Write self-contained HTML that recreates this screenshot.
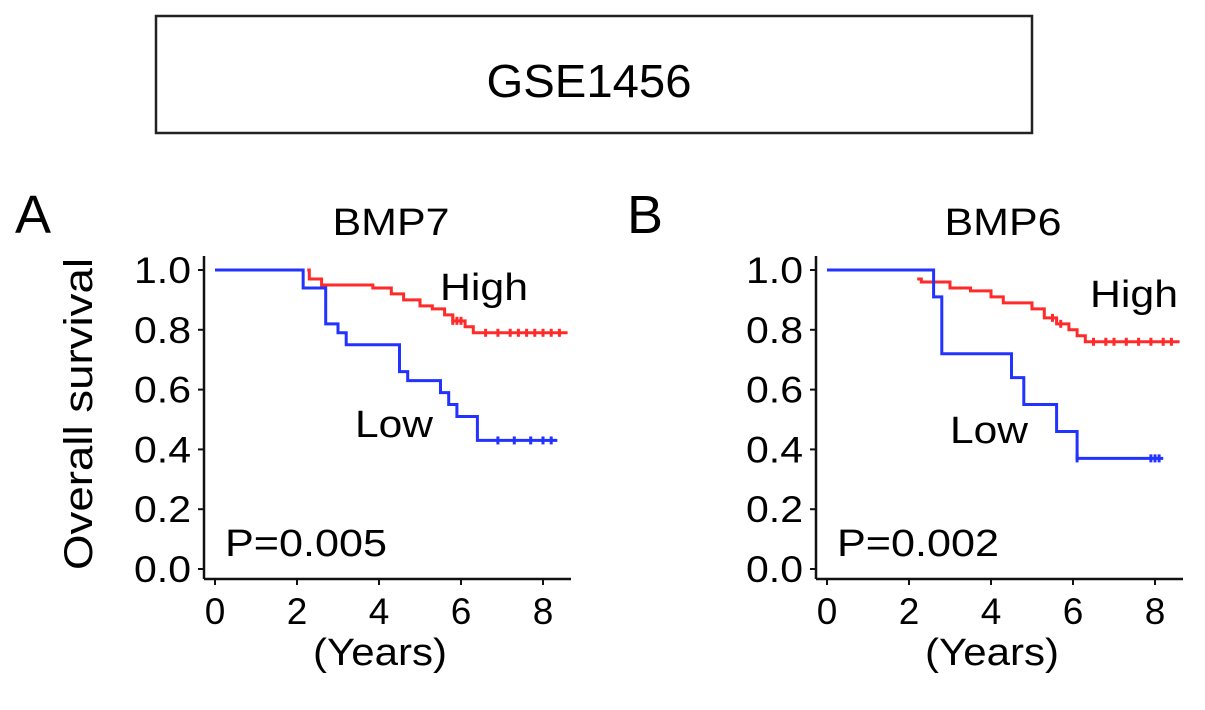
<!DOCTYPE html>
<html><head><meta charset="utf-8"><style>
html,body{margin:0;padding:0;background:#fff;}
svg{display:block;font-family:"Liberation Sans",Arial,sans-serif;}
</style></head><body>
<svg id="fig" width="1205" height="710" viewBox="0 0 1205 710">
<rect x="156" y="16" width="876" height="117" fill="none" stroke="#222" stroke-width="2.5"/>
<text x="589" y="97" font-size="46" text-anchor="middle" textLength="205" lengthAdjust="spacingAndGlyphs">GSE1456</text>
</svg>
<script>
const ticksX=[0,2,4,6,8];
const ticksY=[0.0,0.2,0.4,0.6,0.8,1.0];
const tickLabelsY=["0.0","0.2","0.4","0.6","0.8","1.0"];
// panel A (BMP7)
const aLowT=[0,2.15,2.7,3.0,3.2,4.5,4.7,5.5,5.7,5.9,6.4,8.35];
const aLowS=[1.0,0.94,0.82,0.79,0.75,0.66,0.63,0.59,0.55,0.51,0.43,0.43];
const aHighT=[2.25,2.3,2.6,3.85,4.3,4.6,5.0,5.3,5.6,5.8,6.1,6.3,8.6];
const aHighS=[1.0,0.97,0.95,0.94,0.92,0.90,0.88,0.87,0.85,0.83,0.81,0.79,0.79];
const aLowCens=[6.9,7.3,7.7,8.0,8.2];
const aHighCens=[5.8,5.9,6.0,6.6,6.9,7.2,7.4,7.6,7.8,8.0,8.2,8.4];
// panel B (BMP6)
const bLowT=[0,2.6,2.8,4.5,4.8,5.6,6.1,8.2];
const bLowS=[1.0,0.91,0.72,0.64,0.55,0.46,0.37,0.37];
const bHighT=[2.2,2.3,3.0,3.5,4.0,4.3,5.0,5.3,5.6,5.9,6.1,6.3,8.6];
const bHighS=[0.97,0.96,0.94,0.93,0.91,0.89,0.87,0.84,0.82,0.80,0.78,0.76,0.76];
const bLowCens=[6.1,7.9,8.0,8.1];
const bHighCens=[5.5,5.7,6.5,6.8,7.0,7.3,7.6,7.9,8.2,8.4];

const NS="http://www.w3.org/2000/svg";
const svg=document.getElementById('fig');
function mk(tag,attrs,parent){const e=document.createElementNS(NS,tag);for(const k in attrs)e.setAttribute(k,attrs[k]);(parent||svg).appendChild(e);return e;}

function panel(o){
  const g=mk('g',{});
  
  
  const sx=t=>o.x0+t*(o.x8-o.x0)/8;
  const sy=s=>569-s*299;
  const ax=o.x0-11;
  const ya=mk('line',{x1:ax,y1:256,x2:ax,y2:579,stroke:'#111','stroke-width':2.5},g);
  
  
  const xa=mk('line',{x1:ax,y1:579,x2:o.x8+28,y2:579,stroke:'#111','stroke-width':2.5},g);
  
  
  ticksY.forEach((v,i)=>{
    mk('line',{x1:ax-6,y1:sy(v),x2:ax,y2:sy(v),stroke:'#111','stroke-width':2},g);
    const t=mk('text',{x:ax-13,y:sy(v)+13,'font-size':37,'text-anchor':'end',textLength:57,lengthAdjust:'spacingAndGlyphs'},g);
    t.textContent=tickLabelsY[i];
    
    
  });
  ticksX.forEach(v=>{
    mk('line',{x1:sx(v),y1:579,x2:sx(v),y2:585,stroke:'#111','stroke-width':2},g);
    const t=mk('text',{x:sx(v),y:624,'font-size':37,'text-anchor':'middle'},g);
    t.textContent=v;
    
    
  });
  const xt=mk('text',{x:(o.x0+o.x8)/2+1,y:665,'font-size':38,'text-anchor':'middle',textLength:134,lengthAdjust:'spacingAndGlyphs'},g);
  xt.textContent='(Years)';
  
  
  const tt=mk('text',{x:(o.x0+o.x8)/2+12,y:235,'font-size':38,'text-anchor':'middle',textLength:117,lengthAdjust:'spacingAndGlyphs'},g);
  tt.textContent=o.title;
  
  
  const lt=mk('text',{x:o.x0-200,y:233,'font-size':54},g);
  lt.textContent=o.letter;
  
  
  function curve(T,S,cens,col,name){
    let d='M'+sx(T[0])+','+sy(S[0]);
    for(let i=1;i<T.length;i++){d+=' H'+sx(T[i])+' V'+sy(S[i]);}
    const p=mk('path',{d:d,fill:'none',stroke:col,'stroke-width':3},g);
    
    
    cens.forEach(c=>{
      let s=S[0];for(let i=0;i<T.length;i++){if(T[i]<=c)s=S[i];}
      const m=mk('line',{x1:sx(c),y1:sy(s)-4,x2:sx(c),y2:sy(s)+4,stroke:col,'stroke-width':3},g);
      
      
    });
  }
  curve(o.hT,o.hS,o.hC,'#ff2a2a','high-curve');
  curve(o.lT,o.lS,o.lC,'#2233ff','low-curve');
  const h=mk('text',{x:o.hx,y:o.hy,'font-size':38,textLength:88,lengthAdjust:'spacingAndGlyphs'},g);h.textContent='High';
  
  const l=mk('text',{x:o.lx,y:o.ly,'font-size':38,textLength:78,lengthAdjust:'spacingAndGlyphs'},g);l.textContent='Low';
  
  const pv=mk('text',{x:o.x0+10,y:556,'font-size':38,textLength:162,lengthAdjust:'spacingAndGlyphs'},g);pv.textContent=o.p;
  
}
panel({id:'panel-a-bmp7',x0:215,x8:543,title:'BMP7',letter:'A',lT:aLowT,lS:aLowS,lC:aLowCens,hT:aHighT,hS:aHighS,hC:aHighCens,hx:440,hy:300,lx:355,ly:437,p:'P=0.005'});
panel({id:'panel-b-bmp6',x0:827,x8:1155,title:'BMP6',letter:'B',lT:bLowT,lS:bLowS,lC:bLowCens,hT:bHighT,hS:bHighS,hC:bHighCens,hx:1090,hy:307,lx:950,ly:443,p:'P=0.002'});
const yl=mk('text',{x:0,y:0,'font-size':40,'text-anchor':'middle',textLength:312,lengthAdjust:'spacingAndGlyphs',transform:'translate(92,414) rotate(-90)'});
yl.textContent='Overall survival';


</script>
</body></html>
